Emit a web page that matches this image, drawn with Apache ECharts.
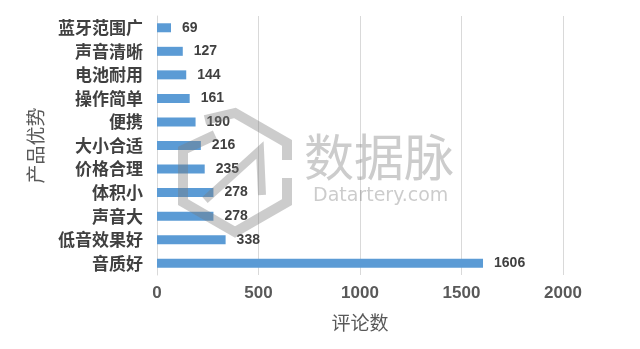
<!DOCTYPE html>
<html><head><meta charset="utf-8">
<script src="https://cdn.jsdelivr.net/npm/echarts@6/dist/echarts.min.js"></script>
<style>html,body{margin:0;padding:0;background:#fff}#c{width:640px;height:349px}</style>
</head><body><div id="c"></div>
<script>
const categories = ['音质好','低音效果好','声音大','体积小','价格合理','大小合适','便携','操作简单','电池耐用','声音清晰','蓝牙范围广'];
const values = [1606,338,278,278,235,216,190,161,144,127,69];
const xTicks = [0,500,1000,1500,2000];

const chart = echarts.init(document.getElementById('c'));
const wm = 'rgba(120,120,120,0.38)';
chart.setOption({
  animation:false,
  grid:{left:157,right:77,top:16,bottom:74,containLabel:false},
  xAxis:{type:'value',min:xTicks[0],max:xTicks[xTicks.length-1],interval:500,
    axisLine:{show:false},axisTick:{show:false},
    splitLine:{lineStyle:{color:'#d9d9d9',width:1}},
    axisLabel:{color:'#595959',fontSize:17,fontWeight:'bold',fontFamily:'Liberation Sans, Arial',margin:10,formatter:v=>String(v)},
    name:'评论数',nameLocation:'middle',nameGap:38,
    nameTextStyle:{color:'#595959',fontSize:19,fontFamily:'Noto Sans CJK SC'}},
  yAxis:{type:'category',data:categories,
    axisLine:{show:true,lineStyle:{color:'#d9d9d9'}},axisTick:{show:false},
    axisLabel:{color:'#404040',fontSize:17,fontWeight:'bold',fontFamily:'Noto Sans CJK SC',margin:14},
    name:'产品优势',nameLocation:'middle',nameGap:112,nameRotate:90,
    nameTextStyle:{color:'#595959',fontSize:19,fontFamily:'Noto Sans CJK SC'}},
  series:[{type:'bar',data:values,barWidth:9,itemStyle:{color:'#5b9bd5'},
    label:{show:true,position:'right',distance:11,color:'#404040',fontSize:14,fontWeight:'bold',fontFamily:'Liberation Sans, Arial'}}],
  graphic:[
    {type:'polyline',z:100,shape:{points:[[205,120],[235,113],[287,143],[287,160]]},style:{stroke:wm,lineWidth:10,fill:null}},
    {type:'polyline',z:100,shape:{points:[[215,135],[183,150],[183,202],[235,232],[287,202],[287,178]]},style:{stroke:wm,lineWidth:10,fill:null}},
    {type:'polyline',z:100,shape:{points:[[205,200],[260,150],[262,195]]},style:{stroke:wm,lineWidth:8,fill:null}},
    {type:'text',z:100,left:304,top:132,style:{text:'数据脉',fill:wm,font:'50px "Noto Sans CJK SC"'}},
    {type:'text',z:100,left:313,top:187,style:{text:'Datartery.com',fill:wm,font:'19px "DejaVu Sans"'}}
  ]
});
</script></body></html>
